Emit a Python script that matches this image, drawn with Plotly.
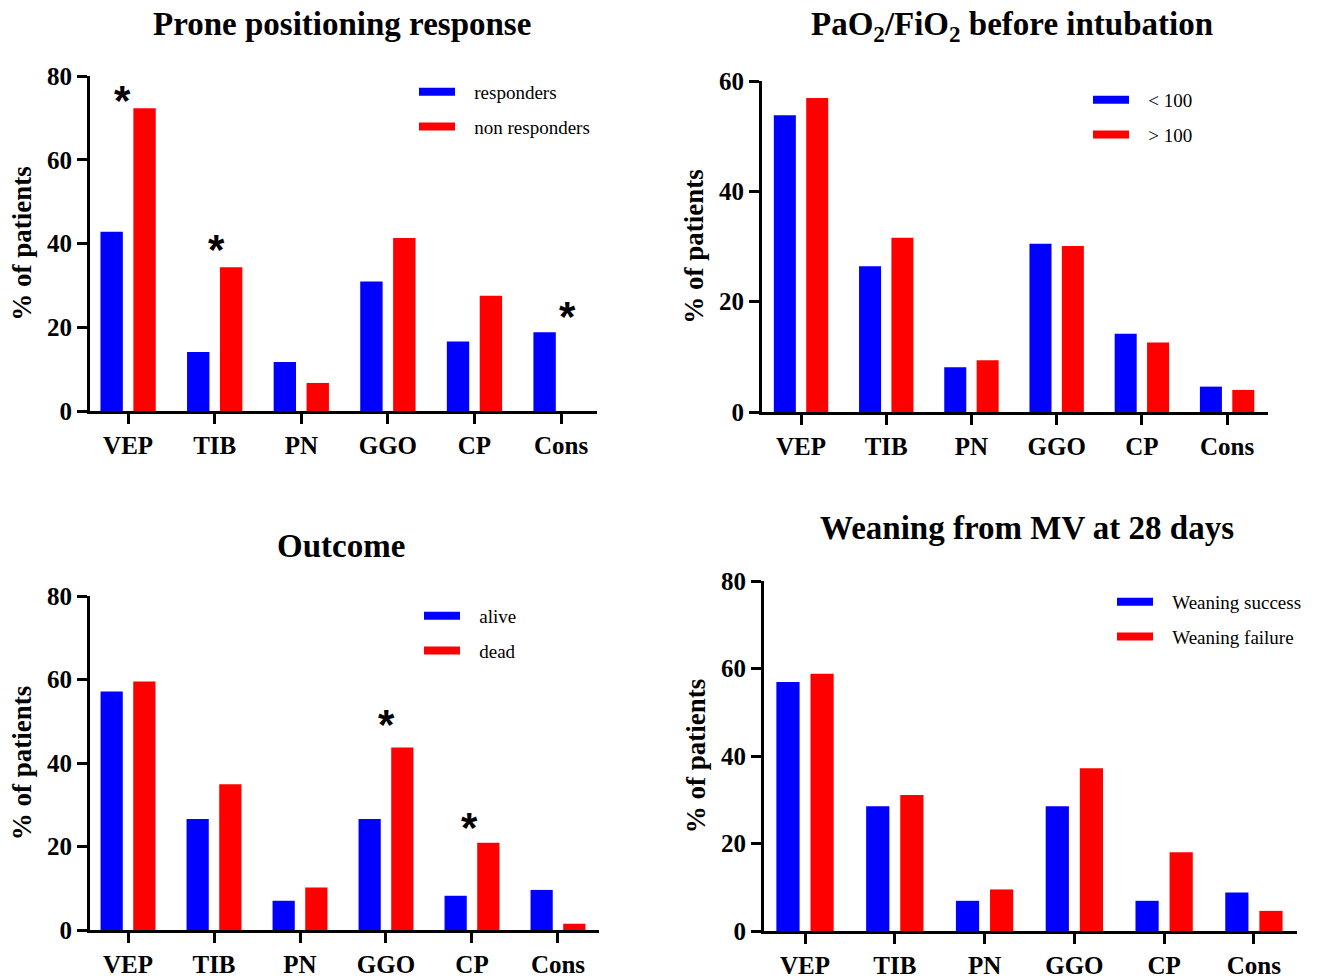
import plotly.graph_objects as go

categories = ["VEP", "TIB", "PN", "GGO", "CP", "Cons"]

# Panel 1: Prone positioning response
prone_responders = [42.8, 14.1, 11.7, 30.9, 16.6, 18.8]
prone_non_responders = [72.3, 34.3, 6.7, 41.3, 27.5, 0]
prone_stars_cat = ["VEP", "TIB", "Cons"]
prone_stars_y = [75.5, 40.0, 24.0]

# Panel 2: PaO2/FiO2 before intubation
pf_below_100 = [53.8, 26.4, 8.1, 30.5, 14.2, 4.6]
pf_above_100 = [56.9, 31.6, 9.4, 30.1, 12.6, 4.0]

# Panel 3: Outcome
outcome_alive = [57.1, 26.6, 7.0, 26.6, 8.2, 9.6]
outcome_dead = [59.5, 34.9, 10.2, 43.7, 20.9, 1.5]
outcome_stars_cat = ["GGO", "CP"]
outcome_stars_y = [50.7, 26.0]

# Panel 4: Weaning from MV at 28 days
wean_success = [56.9, 28.5, 6.9, 28.5, 6.9, 8.8]
wean_failure = [58.8, 31.1, 9.5, 37.2, 18.0, 4.6]

BLUE = "#0000FF"
RED = "#FF0000"
SERIF = "Liberation Serif, Times New Roman, serif"

W, H = 1320, 978

def px_x(p):
    return p / W

def px_y(p):
    return 1 - p / H

panels = [
    dict(title="<b>Prone positioning response</b>", names=["responders", "non responders"],
         data=[prone_responders, prone_non_responders], ymax=80,
         xdom=(90, 597), ydom=(411, 76), xr=(-0.44, 5.415),
         title_pos=(342, 24), leg=(414, 73)),
    dict(title="<b>PaO<sub>2</sub>/FiO<sub>2</sub> before intubation</b>", names=["< 100", "> 100"],
         data=[pf_below_100, pf_above_100], ymax=60,
         xdom=(762, 1268), ydom=(412, 81), xr=(-0.458, 5.48),
         title_pos=(1012, 27), leg=(1088, 81)),
    dict(title="<b>Outcome</b>", names=["alive", "dead"],
         data=[outcome_alive, outcome_dead], ymax=80,
         xdom=(90, 599), ydom=(930, 596), xr=(-0.442, 5.477),
         title_pos=(341, 546), leg=(419, 597)),
    dict(title="<b>Weaning from MV at 28 days</b>", names=["Weaning success", "Weaning failure"],
         data=[wean_success, wean_failure], ymax=80,
         xdom=(764, 1297), ydom=(931, 581), xr=(-0.457, 5.48),
         title_pos=(1027, 528), leg=(1112, 583)),
]

fig = go.Figure()
annotations = []
layout = {}
GAP = "&nbsp;" * 3

for i, p in enumerate(panels):
    k = "" if i == 0 else str(i + 1)
    xa, ya = "x" + k, "y" + k
    leg = "legend" + k
    for j, (name, vals, col) in enumerate(zip(p["names"], p["data"], [BLUE, RED])):
        fig.add_trace(go.Bar(x=categories, y=vals, name=name, marker=dict(color=col, line=dict(width=0)),
                             xaxis=xa, yaxis=ya, showlegend=False, offsetgroup=str(j)))
        fig.add_trace(go.Scatter(x=[None], y=[None], mode="lines", name=GAP + name,
                                 line=dict(color=col, width=8), xaxis=xa, yaxis=ya,
                                 legend=leg, legendgroup=f"{i}_{j}", showlegend=True))
    layout["xaxis" + k] = dict(
        domain=[px_x(p["xdom"][0]), px_x(p["xdom"][1])], anchor=ya, type="category",
        range=list(p["xr"]), showline=True, linecolor="black", linewidth=3,
        ticks="outside", ticklen=10, tickwidth=3, tickcolor="black", showgrid=False,
        tickfont=dict(family=SERIF, size=25, color="black", weight="bold"), fixedrange=True)
    layout["yaxis" + k] = dict(
        domain=[px_y(p["ydom"][0]), px_y(p["ydom"][1])], anchor=xa,
        range=[0, p["ymax"]], tickvals=list(range(0, p["ymax"] + 1, 20)),
        showline=True, linecolor="black", linewidth=3, ticks="outside", ticklen=10,
        tickwidth=3, tickcolor="black", showgrid=False, zeroline=False,
        tickfont=dict(family=SERIF, size=25, color="black", weight="bold"),
        title=dict(text="<b>% of patients</b>", font=dict(family=SERIF, size=27, color="black"), standoff=8))
    layout[leg] = dict(x=px_x(p["leg"][0]), y=px_y(p["leg"][1]), xanchor="left", yanchor="top",
                       bgcolor="rgba(0,0,0,0)", font=dict(family=SERIF, size=19, color="black"),
                       itemwidth=36, tracegroupgap=7, traceorder="grouped")
    annotations.append(dict(text=p["title"], x=px_x(p["title_pos"][0]), y=px_y(p["title_pos"][1]),
                            xref="paper", yref="paper", xanchor="center", yanchor="middle",
                            showarrow=False, font=dict(family=SERIF, size=33, color="black")))

star_sets = [(prone_stars_cat, prone_stars_y, "x", "y", [-6, 2, 6]),
             (outcome_stars_cat, outcome_stars_y, "x3", "y3", [1, -2])]
for cats, ys, xr, yr, shifts in star_sets:
    for c, yv, s in zip(cats, ys, shifts):
        annotations.append(dict(text="<b>*</b>", x=c, y=yv, xref=xr, yref=yr, xshift=s, yshift=-6,
                                showarrow=False, xanchor="center", yanchor="middle",
                                font=dict(family="Liberation Sans, Arial, sans-serif", size=42, color="black")))

fig.update_layout(**layout)
fig.update_layout(width=W, height=H, margin=dict(l=0, r=0, t=0, b=0, autoexpand=False),
                  paper_bgcolor="white", plot_bgcolor="white",
                  barmode="group", bargap=0.24, bargroupgap=0.32,
                  annotations=annotations, font=dict(family=SERIF, color="black"))

fig.write_html("out.html", config={"displayModeBar": False},
               post_script="document.body.style.margin='0';document.body.style.overflow='hidden';")
